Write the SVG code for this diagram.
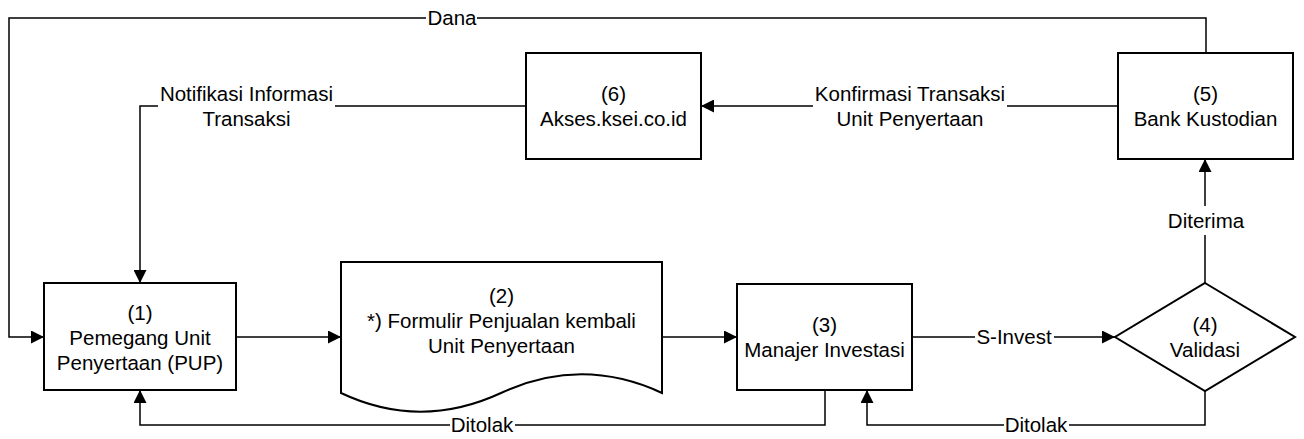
<svg xmlns="http://www.w3.org/2000/svg" width="1304" height="439" viewBox="0 0 1304 439">
<style>
.box{fill:#fff;stroke:#000;stroke-width:2}
.ln{fill:none;stroke:#000;stroke-width:1.5}
text{font-family:"Liberation Sans",Arial,sans-serif;font-size:20.5px;fill:#000;text-anchor:middle}
</style>
<defs>
<marker id="ah" markerUnits="userSpaceOnUse" markerWidth="13" markerHeight="13" refX="13" refY="6.5" orient="auto">
<path d="M0,0 L13,6.5 L0,13 z" fill="#000"/>
</marker>
</defs>
<rect width="1304" height="439" fill="#fff"/>
<g id="connectors">
<path class="ln" d="M1206,53 V18 H477 M426,18 H9 V337 H44" marker-end="url(#ah)"/>
<path class="ln" d="M526,106 H335 M158,106 H140 V283" marker-end="url(#ah)"/>
<path class="ln" d="M1118,106 H1007 M813,106 H701" marker-end="url(#ah)"/>
<path class="ln" d="M236,337 H341" marker-end="url(#ah)"/>
<path class="ln" d="M662,337 H737" marker-end="url(#ah)"/>
<path class="ln" d="M912,337 H975 M1054,337 H1115" marker-end="url(#ah)"/>
<path class="ln" d="M1205,283 V235 M1205,206 V159" marker-end="url(#ah)"/>
<path class="ln" d="M1205,391 V425 H1069 M1004,425 H867 V390" marker-end="url(#ah)"/>
<path class="ln" d="M825,390 V425 H515 M450,425 H140 V390" marker-end="url(#ah)"/>
<text x="452" y="25">Dana</text>
<text x="246.5" y="101">Notifikasi Informasi</text>
<text x="246.5" y="126">Transaksi</text>
<text x="910" y="101">Konfirmasi Transaksi</text>
<text x="910" y="126">Unit Penyertaan</text>
<text x="1014" y="344">S-Invest</text>
<text x="1206" y="228">Diterima</text>
<text x="1036" y="432">Ditolak</text>
<text x="482" y="432">Ditolak</text>
</g>
<g id="node1">
<rect class="box" x="44" y="283" width="192" height="107"/>
<text x="140" y="320">(1)</text>
<text x="140" y="345">Pemegang Unit</text>
<text x="140" y="370">Penyertaan (PUP)</text>
</g>
<g id="node2">
<path class="box" d="M341,262 H662 V393 C608,368 555,368 501,393 C447,418 394,418 341,393 Z"/>
<text x="501.5" y="303">(2)</text>
<text x="501.5" y="328">*) Formulir Penjualan kembali</text>
<text x="501.5" y="353">Unit Penyertaan</text>
</g>
<g id="node3">
<rect class="box" x="737" y="284" width="175" height="106"/>
<text x="824.5" y="331.5">(3)</text>
<text x="824.5" y="356.5">Manajer Investasi</text>
</g>
<g id="node4">
<path class="box" d="M1205,283 L1295,337 L1205,391 L1115,337 Z"/>
<text x="1205" y="331.5">(4)</text>
<text x="1205" y="356.5">Validasi</text>
</g>
<g id="node5">
<rect class="box" x="1118" y="53" width="175" height="106"/>
<text x="1205.5" y="100.5">(5)</text>
<text x="1205.5" y="125.5">Bank Kustodian</text>
</g>
<g id="node6">
<rect class="box" x="526" y="53" width="175" height="106"/>
<text x="613.5" y="100.5">(6)</text>
<text x="613.5" y="125.5">Akses.ksei.co.id</text>
</g>
</svg>
